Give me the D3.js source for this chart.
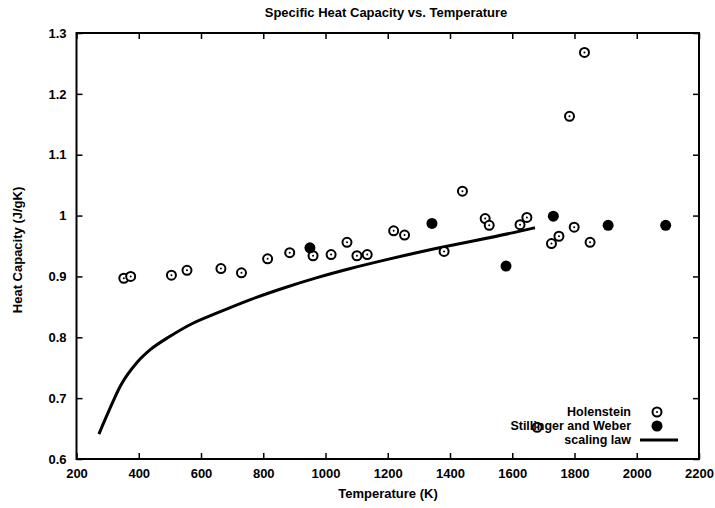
<!DOCTYPE html>
<html>
<head>
<meta charset="utf-8">
<script src="https://cdn.jsdelivr.net/npm/d3@7"></script>
<style>
  body { margin: 0; background: #fff; }
  text { font-family: "Liberation Sans", Arial, sans-serif; font-weight: bold; fill: #000; }
</style>
</head>
<body>
<div id="chart"></div>
<script>
// Holenstein (open circles)
var holT = [352, 374, 505, 555, 664, 730, 814, 885, 960, 1018, 1069, 1101, 1134, 1219, 1254,
            1381, 1440, 1513, 1526, 1625, 1647, 1680, 1726, 1750, 1784, 1799, 1832, 1850];
var holC = [0.897, 0.900, 0.902, 0.910, 0.913, 0.906, 0.929, 0.939, 0.934, 0.936, 0.956, 0.934, 0.936, 0.975, 0.968,
            0.941, 1.040, 0.995, 0.984, 0.985, 0.997, 0.652, 0.954, 0.966, 1.163, 0.981, 1.268, 0.956];

// Stillinger and Weber (filled circles)
var swT = [950, 1342, 1580, 1732, 1908, 2093];
var swC = [0.947, 0.987, 0.917, 0.999, 0.984, 0.984];

// scaling law curve
var lawT = [272, 304, 341, 395, 438, 502, 566, 652, 759, 866, 973, 1080, 1200, 1347, 1604, 1673];
var lawC = [0.641, 0.679, 0.720, 0.759, 0.780, 0.802, 0.821, 0.840, 0.862, 0.881, 0.898, 0.913, 0.928, 0.945, 0.972, 0.980];

var xTicks = [200, 400, 600, 800, 1000, 1200, 1400, 1600, 1800, 2000, 2200];
var yTicks = [0.6, 0.7, 0.8, 0.9, 1.0, 1.1, 1.2, 1.3];
var legendLabels = ["Holenstein", "Stillinger and Weber", "scaling law"];

var W = 715, H = 508;
var margin = {top: 33, right: 16, bottom: 49, left: 76.5},
    width = W - margin.left - margin.right,
    height = H - margin.top - margin.bottom;

var svg = d3.select("#chart").append("svg")
    .attr("width", W)
    .attr("height", H);

var g = svg.append("g")
    .attr("transform", "translate(" + margin.left + "," + margin.top + ")");

var x = d3.scaleLinear().domain([200, 2200]).range([0, width]);
var y = d3.scaleLinear().domain([0.6, 1.3]).range([height, 0]);

var fmt = function(d) { return String(+d.toFixed(1)); };

// axes with inward ticks (gnuplot style, mirrored on top and right)
var xAxis = g.append("g")
    .attr("transform", "translate(0," + height + ")")
    .call(d3.axisBottom(x).tickValues(xTicks).tickFormat(d3.format("d"))
      .tickSizeInner(-6).tickSizeOuter(0).tickPadding(10));
var xTop = g.append("g")
    .call(d3.axisTop(x).tickValues(xTicks).tickSizeInner(-6).tickSizeOuter(0).tickFormat(""));
var yAxis = g.append("g")
    .call(d3.axisLeft(y).tickValues(yTicks).tickFormat(fmt).tickSizeInner(-6).tickSizeOuter(0).tickPadding(10));
var yRight = g.append("g")
    .attr("transform", "translate(" + width + ",0)")
    .call(d3.axisRight(y).tickValues(yTicks).tickSizeInner(-6).tickSizeOuter(0).tickFormat(""));

[xAxis, xTop, yAxis, yRight].forEach(function(a) {
  a.select(".domain").remove();
  a.selectAll(".tick line").attr("stroke", "#000").attr("stroke-width", 1.5);
  a.selectAll("text").attr("font-size", 13).attr("font-family", null);
});

// frame
g.append("rect")
    .attr("width", width)
    .attr("height", height)
    .attr("fill", "none")
    .attr("stroke", "#000")
    .attr("stroke-width", 2);

// scaling law line
var line = d3.line()
    .x(function(d, i) { return x(lawT[i]); })
    .y(function(d) { return y(d); })
    .curve(d3.curveMonotoneX);

g.append("path")
    .datum(lawC)
    .attr("d", line)
    .attr("fill", "none")
    .attr("stroke", "#000")
    .attr("stroke-width", 3);

// Holenstein points
var hol = g.selectAll(".hol")
    .data(holC)
    .enter().append("g")
    .attr("class", "hol")
    .attr("transform", function(d, i) { return "translate(" + x(holT[i]) + "," + y(d) + ")"; });
hol.append("circle").attr("r", 4.5).attr("fill", "#fff").attr("stroke", "#000").attr("stroke-width", 2);
hol.append("circle").attr("r", 1).attr("fill", "#000");

// Stillinger and Weber points
g.selectAll(".sw")
    .data(swC)
    .enter().append("circle")
    .attr("class", "sw")
    .attr("cx", function(d, i) { return x(swT[i]); })
    .attr("cy", function(d) { return y(d); })
    .attr("r", 5.5)
    .attr("fill", "#000");

// legend
var legY = [416, 430, 444];
legendLabels.forEach(function(lab, i) {
  svg.append("text")
      .attr("x", 631)
      .attr("y", legY[i])
      .attr("text-anchor", "end")
      .attr("font-size", 12.5)
      .text(lab);
});
var lh = svg.append("g").attr("transform", "translate(657," + (legY[0] - 4) + ")");
lh.append("circle").attr("r", 4.5).attr("fill", "#fff").attr("stroke", "#000").attr("stroke-width", 2);
lh.append("circle").attr("r", 1).attr("fill", "#000");
svg.append("circle").attr("cx", 657).attr("cy", legY[1] - 4).attr("r", 5.5).attr("fill", "#000");
svg.append("line")
    .attr("x1", 640).attr("x2", 678)
    .attr("y1", legY[2] - 4).attr("y2", legY[2] - 4)
    .attr("stroke", "#000").attr("stroke-width", 3);

// titles
svg.append("text")
    .attr("x", 386)
    .attr("y", 17)
    .attr("text-anchor", "middle")
    .attr("font-size", 13)
    .text("Specific Heat Capacity vs. Temperature");

svg.append("text")
    .attr("x", 388)
    .attr("y", 498)
    .attr("text-anchor", "middle")
    .attr("font-size", 13)
    .text("Temperature (K)");

svg.append("text")
    .attr("transform", "translate(22,250) rotate(-90)")
    .attr("text-anchor", "middle")
    .attr("font-size", 13)
    .text("Heat Capacity (J/gK)");
</script>
</body>
</html>
